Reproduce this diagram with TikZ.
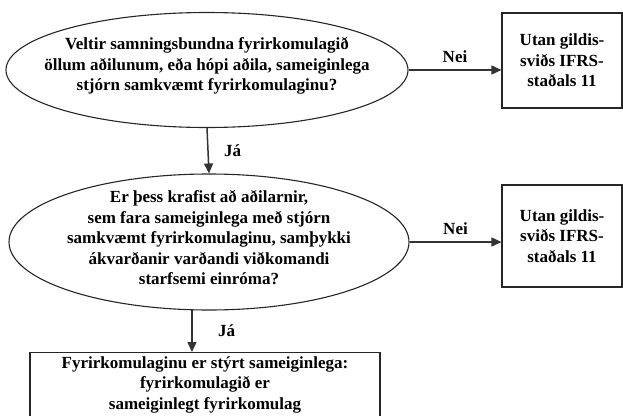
\documentclass[tikz,border=0pt]{standalone}
\usepackage{fontspec}
\setmainfont{Liberation Serif}
\usetikzlibrary{shapes.geometric, arrows.meta, positioning}

\begin{document}
\begin{tikzpicture}[x=1pt,y=-1pt,
  spurning/.style={ellipse, draw=black!85, line width=1.1pt, inner sep=0pt},
  kassi/.style={rectangle, draw=black!85, line width=1.1pt, inner sep=0pt},
  texti/.style={align=center, inner sep=0pt, font=\fontsize{17}{20.5}\selectfont\bfseries},
  merki/.style={font=\fontsize{17}{18}\selectfont\bfseries},
  or/.style={-{Triangle[length=10pt,width=9pt]}, line width=1.5pt, draw=black!80}]
\useasboundingbox (0,0) rectangle (623,415);
\clip (0,0) rectangle (623,415);

% Spurning 1
\node[spurning, minimum width=402pt, minimum height=115pt] (sp1) at (207,70) {};
\node[texti] (tx1) at (207,66) {Veltir samningsbundna fyrirkomulagið\\
  öllum aðilunum, eða hópi aðila, sameiginlega\\
  stjórn samkvæmt fyrirkomulaginu?};

% Utan gildissviðs 1
\node[kassi, minimum width=120pt, minimum height=95pt] (ut1) at (562,60.5) {};
\node[texti] (tu1) at (ut1) {Utan gildis-\\ sviðs IFRS-\\ staðals 11};

% Spurning 2
\node[spurning, minimum width=400pt, minimum height=136pt] (sp2) at (209,242) {};
\node[texti] (tx2) at (209,238) {Er þess krafist að aðilarnir,\\
  sem fara sameiginlega með stjórn\\
  samkvæmt fyrirkomulaginu, samþykki\\
  ákvarðanir varðandi viðkomandi\\
  starfsemi einróma?};

% Utan gildissviðs 2
\node[kassi, minimum width=120pt, minimum height=102pt] (ut2) at (562,236) {};
\node[texti] (tu2) at (ut2) {Utan gildis-\\ sviðs IFRS-\\ staðals 11};

% Niðurstaða
\node[kassi, anchor=north, minimum width=350pt, minimum height=90pt] (lok) at (205,352) {};
\node[texti, anchor=north] (tl) at ([yshift=-4pt]lok.north) {Fyrirkomulaginu er stýrt sameiginlega:\\
  fyrirkomulagið er\\
  sameiginlegt fyrirkomulag};

% Örvar
\draw[or] (sp1.east) -- node[merki, above=3pt] {Nei} (sp1.east -| ut1.west);
\draw[or] (sp2.east) -- node[merki, above=3pt] {Nei} (sp2.east -| ut2.west);
\draw[or] (sp1.south) -- node[merki, right=12pt] {Já} (sp2.north);
\draw[or] (sp2.-104) -- node[merki, right=22pt] {Já} (sp2.-104 |- lok.north);
\end{tikzpicture}
\end{document}
